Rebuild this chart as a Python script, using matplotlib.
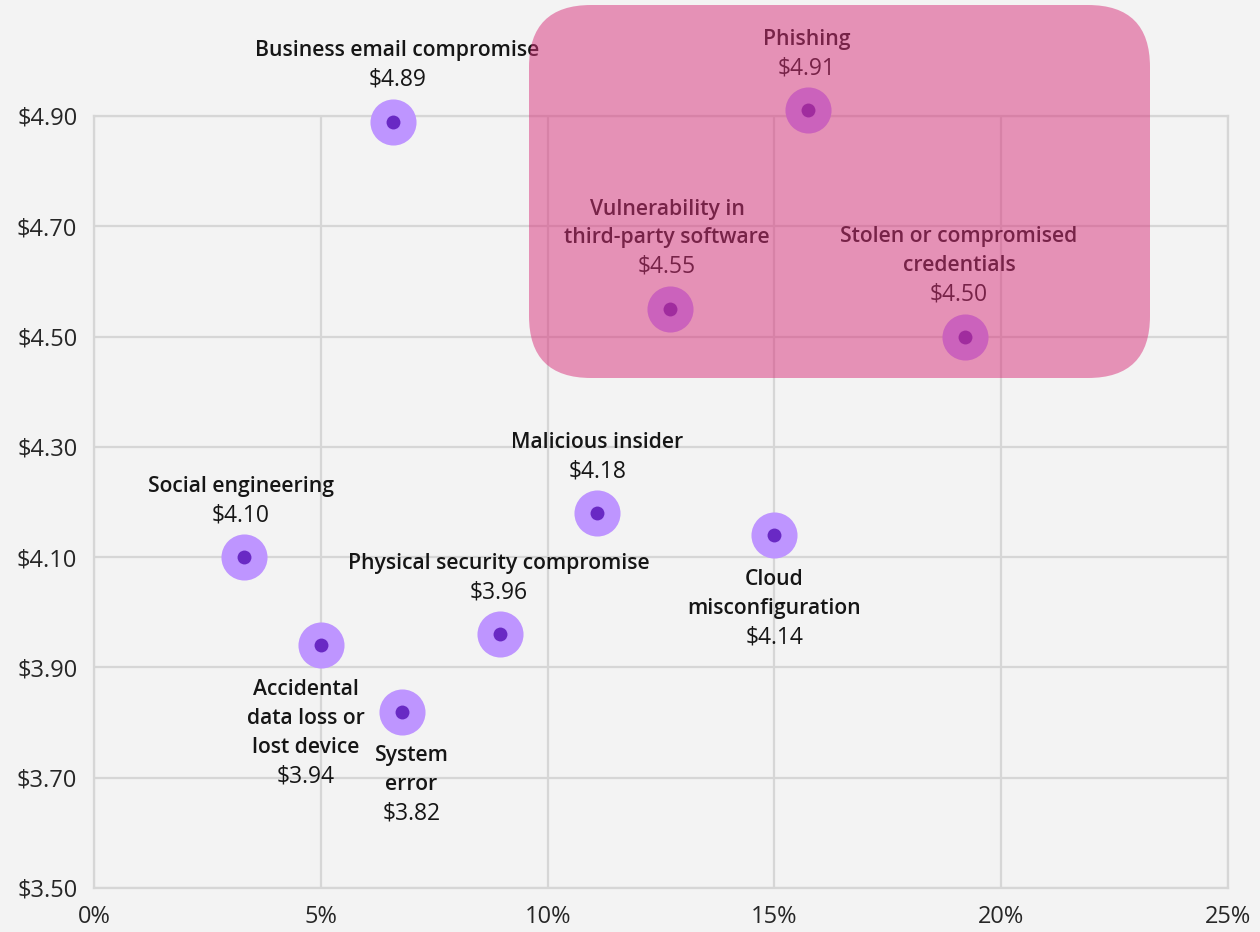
import matplotlib
matplotlib.use('Agg')
import matplotlib.pyplot as plt
from matplotlib.patches import FancyBboxPatch
from matplotlib.transforms import IdentityTransform
from matplotlib.ticker import FuncFormatter

# ------------------------------------------------------------
# data: share of breaches (%) vs average cost (USD millions)
# ------------------------------------------------------------
vectors = ['Business email compromise', 'Phishing', 'Vulnerability in\nthird-party software',
           'Stolen or compromised\ncredentials', 'Malicious insider', 'Social engineering',
           'Cloud\nmisconfiguration', 'Physical security compromise',
           'Accidental\ndata loss or\nlost device', 'System\nerror']
share = [6.6, 15.75, 12.7, 19.2, 11.1, 3.3, 15.0, 8.95, 5.0, 6.8]
cost = [4.89, 4.91, 4.55, 4.50, 4.18, 4.10, 4.14, 3.96, 3.94, 3.82]
# label placement: 'above' or 'below' the point, plus a small horizontal nudge (pixels)
label_side = ['above', 'above', 'above', 'above', 'above', 'above', 'below', 'above', 'below', 'below']
label_dx = [4, -2, -3, -6, 0, -3, 0, -1, -15, 9]

x_ticks = [0, 5, 10, 15, 20, 25]
y_ticks = [3.50, 3.70, 3.90, 4.10, 4.30, 4.50, 4.70, 4.90]

bg = '#f3f3f3'
grid_c = '#d6d6d6'
text_c = '#161616'

plt.rcParams['font.family'] = ['Open Sans', 'DejaVu Sans']

fig = plt.figure(figsize=(12.6, 9.32), dpi=100, facecolor=bg)
ax = fig.add_axes([94 / 1260, 44 / 932, 1134 / 1260, 772 / 932])
ax.set_facecolor(bg)

ax.set_xlim(0, 25)
ax.set_ylim(3.50, 4.90)
ax.set_xticks(x_ticks)
ax.set_yticks(y_ticks)
ax.xaxis.set_major_formatter(FuncFormatter(lambda v, p: f'{v:.0f}%'))
ax.yaxis.set_major_formatter(FuncFormatter(lambda v, p: f'${v:.2f}'))
ax.tick_params(length=0, labelsize=17, colors='#262626')
ax.tick_params(axis='x', pad=12)
ax.tick_params(axis='y', pad=12)
ax.grid(True, color=grid_c, linewidth=1.6)
ax.set_axisbelow(True)
for s in ax.spines.values():
    s.set_color(grid_c)
    s.set_linewidth(1.6)

# points: light halo + dark centre
ax.scatter(share, cost, s=1100, color='#be95ff', zorder=3, clip_on=False, linewidths=0)
ax.scatter(share, cost, s=100, color='#6929c4', zorder=4, clip_on=False, linewidths=0)

pitch = 29  # pixels between text lines
for name, x, y, side, dx in zip(vectors, share, cost, label_side, label_dx):
    rows = name.split('\n') + [f'${y:.2f}']
    if side == 'above':
        top = 42 + pitch * (len(rows) - 1)
        offsets = [top - i * pitch for i in range(len(rows))]
    else:
        offsets = [-44 - i * pitch for i in range(len(rows))]
    for i, (txt, dy) in enumerate(zip(rows, offsets)):
        is_value = i == len(rows) - 1
        ax.annotate(txt, (x, y), xytext=(dx, dy), textcoords='offset pixels',
                    ha='center', va='center',
                    fontsize=16.5 if is_value else 15.2,
                    fontweight='normal' if is_value else 'semibold',
                    color=text_c, zorder=5, annotation_clip=False)

# highlight box over the high-cost / high-share corner (pixel coords, rounded corners)
x0, y0 = 529, 932 - 378
box = FancyBboxPatch((x0, y0), 1150 - 529, 378 - 5,
                     boxstyle='round,pad=0,rounding_size=62',
                     transform=IdentityTransform(), facecolor='#d8307a', alpha=0.5,
                     edgecolor='none', zorder=10, clip_on=False)
fig.patches.append(box)
box.set_figure(fig)

fig.savefig('out.png', dpi=100, facecolor=bg)
